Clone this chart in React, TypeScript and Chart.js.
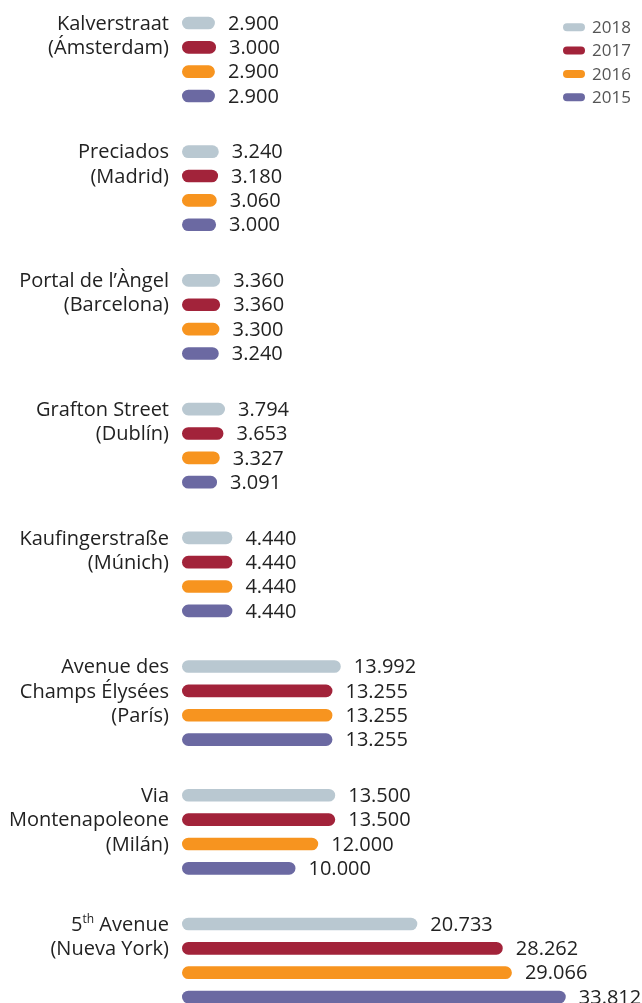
import React, { useEffect, useRef } from "react";
import { Chart, registerables } from "chart.js";

Chart.register(...registerables);

const categories: string[][] = [
  ["Kalverstraat", "(Ámsterdam)"],
  ["Preciados", "(Madrid)"],
  ["Portal de l’Àngel", "(Barcelona)"],
  ["Grafton Street", "(Dublín)"],
  ["Kaufingerstraße", "(Múnich)"],
  ["Avenue des", "Champs Élysées", "(París)"],
  ["Via", "Montenapoleone", "(Milán)"],
  ["5th Avenue", "(Nueva York)"],
];

const seriesNames = ["2018", "2017", "2016", "2015"];
const values2018 = [2900, 3240, 3360, 3794, 4440, 13992, 13500, 20733];
const values2017 = [3000, 3180, 3360, 3653, 4440, 13255, 13500, 28262];
const values2016 = [2900, 3060, 3300, 3327, 4440, 13255, 12000, 29066];
const values2015 = [2900, 3000, 3240, 3091, 4440, 13255, 10000, 33812];
const seriesColors = ["#b9c8d1", "#a2233a", "#f7941f", "#6b69a2"];

const FONT = '"Open Sans", "Noto Sans", sans-serif';
const TEXT = "#222222";
const FS = 20;

function fmt(v: number): string {
  const s = Math.round(v).toString();
  return s.replace(/\B(?=(\d{3})+(?!\d))/g, ".");
}

const labelPlugin = {
  id: "customLabels",
  afterDatasetsDraw(chart: any) {
    const ctx = chart.ctx as CanvasRenderingContext2D;
    ctx.save();
    // value labels
    ctx.font = `${FS}px ${FONT}`;
    ctx.fillStyle = TEXT;
    ctx.textAlign = "left";
    ctx.textBaseline = "middle";
    chart.data.datasets.forEach((ds: any, di: number) => {
      const meta = chart.getDatasetMeta(di);
      meta.data.forEach((el: any, i: number) => {
        ctx.fillText(fmt(ds.data[i]), el.x + 13, el.y + 1);
      });
    });
    // category labels
    const rightX = 169;
    categories.forEach((lines, i) => {
      lines.forEach((line, j) => {
        const el = chart.getDatasetMeta(j).data[i];
        const y = el.y + 1;
        const m = /^(\d+)(th)(.*)$/.exec(line);
        ctx.textAlign = "right";
        if (m) {
          ctx.font = `${FS}px ${FONT}`;
          const restW = ctx.measureText(m[3]).width;
          ctx.fillText(m[3], rightX, y);
          ctx.font = `12px ${FONT}`;
          const supW = ctx.measureText(m[2]).width;
          ctx.fillText(m[2], rightX - restW, y - 5);
          ctx.font = `${FS}px ${FONT}`;
          ctx.fillText(m[1], rightX - restW - supW, y);
        } else {
          ctx.font = `${FS}px ${FONT}`;
          ctx.fillText(line, rightX, y);
        }
      });
    });
    // legend
    ctx.font = `17px ${FONT}`;
    ctx.textAlign = "left";
    seriesNames.forEach((name, k) => {
      const cy = 27.3 + k * 23.3;
      ctx.fillStyle = seriesColors[k];
      ctx.beginPath();
      (ctx as any).roundRect(563, cy - 4, 22, 8, 4);
      ctx.fill();
      ctx.fillStyle = "#555555";
      ctx.fillText(name, 592, cy + 1);
    });
    ctx.restore();
  },
};

export default function App() {
  const ref = useRef<HTMLCanvasElement | null>(null);

  useEffect(() => {
    if (!ref.current) return;
    const all = [values2018, values2017, values2016, values2015];
    const chart = new Chart(ref.current, {
      type: "bar",
      data: {
        labels: categories.map((c) => c.join(" ")),
        datasets: all.map((vals, k) => ({
          label: seriesNames[k],
          data: vals,
          backgroundColor: seriesColors[k],
          borderRadius: 20,
          borderSkipped: false,
          barPercentage: 0.52,
          categoryPercentage: 0.757,
          clip: false as any,
        })),
      },
      options: {
        indexAxis: "y",
        animation: false,
        responsive: true,
        maintainAspectRatio: false,
        layout: { padding: { left: 182, right: 6, top: 59.5, bottom: 42.5 } },
        scales: {
          x: { type: "linear", min: 0, max: 40000, display: false },
          y: { type: "category", display: false, offset: false },
        },
        plugins: {
          legend: { display: false },
          tooltip: { enabled: false },
        },
      },
      plugins: [labelPlugin],
    });
    return () => chart.destroy();
  }, []);

  return (
    <div style={{ position: "fixed", left: 0, top: 0, width: 642, height: 1003, background: "#fff" }}>
      <canvas ref={ref} />
    </div>
  );
}
